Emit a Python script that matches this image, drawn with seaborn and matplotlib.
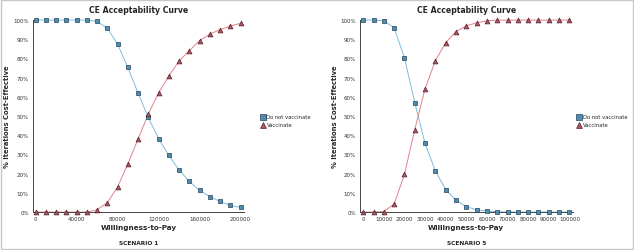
import pandas as pd
import seaborn as sns
import matplotlib
matplotlib.use('Agg')
import matplotlib.pyplot as plt
from matplotlib.patches import Rectangle
from matplotlib.ticker import FuncFormatter

# Scenario 1 (WTP 0..200000 step 10000)
wtp_s1 = list(range(0, 200001, 10000))
dnv_s1 = [100, 100, 100, 100, 100, 100, 99.3, 95.8, 87.6, 75.4, 62, 49.3, 38.3, 29.6, 22, 16, 11.3, 8, 5.6, 3.5, 2.4]
vac_s1 = [0, 0, 0, 0, 0, 0, 1.2, 4.9, 13, 25, 38, 51, 62, 70.9, 78.6, 84.1, 89.2, 92.7, 95, 96.9, 98.3]

# Scenario 5 (WTP 0..100000 step 5000)
wtp_s5 = list(range(0, 100001, 5000))
dnv_s5 = [100, 100, 99.6, 96, 80.4, 57, 35.8, 21.5, 11.7, 6.1, 2.8, 1.2, 0.6, 0.2, 0, 0, 0, 0, 0, 0, 0]
vac_s5 = [0, 0, 0.3, 4.2, 19.6, 43, 64.3, 78.8, 88.3, 94, 97, 98.6, 99.6, 100, 100, 100, 100, 100, 100, 100, 100]

series_names = ['Do not vaccinate', 'Vaccinate']
scenario_labels = ['SCENARIO 1', 'SCENARIO 5']

line_cols = {'Do not vaccinate': '#7fbcdc', 'Vaccinate': '#e2828a'}
fill_cols = {'Do not vaccinate': '#4f8db0', 'Vaccinate': '#b25563'}
edge_cols = {'Do not vaccinate': '#27465a', 'Vaccinate': '#4e1f2a'}
markers = {'Do not vaccinate': 's', 'Vaccinate': '^'}

sns.set_style('white')
plt.rcParams['font.family'] = ['DejaVu Sans']

fig = plt.figure(figsize=(6.34, 2.51), dpi=100)
fig.patches.append(Rectangle((0.001, 0.004), 0.997, 0.992, transform=fig.transFigure,
                             fill=False, edgecolor='#c8c8c8', lw=1.0))

panels = [
    (wtp_s1, dnv_s1, vac_s1, [0.052, 0.151, 0.333, 0.765], (-2500, 203500),
     [0, 40000, 80000, 120000, 160000, 200000], 0.407),
    (wtp_s5, dnv_s5, vac_s5, [0.568, 0.151, 0.335, 0.765], (-1500, 101500),
     list(range(0, 100001, 10000)), 0.906),
]

for (wtp, dnv, vac, rect, xlim, xticks, legx), scen in zip(panels, scenario_labels):
    df = pd.DataFrame({
        'wtp': wtp * 2,
        'pct': dnv + vac,
        'strategy': [series_names[0]] * len(wtp) + [series_names[1]] * len(wtp),
    })
    ax = fig.add_axes(rect)
    sns.lineplot(data=df, x='wtp', y='pct', hue='strategy', palette=line_cols,
                 lw=0.7, legend=False, ax=ax, clip_on=False)
    for name in series_names:
        sub = df[df['strategy'] == name]
        sns.scatterplot(data=sub, x='wtp', y='pct', marker=markers[name],
                        color=fill_cols[name], edgecolor=edge_cols[name],
                        linewidth=0.5, s=12, ax=ax, clip_on=False, zorder=3,
                        label=name)
    ax.set_xlim(*xlim)
    ax.set_ylim(0, 100)
    ax.set_xticks(xticks)
    ax.set_yticks(range(0, 101, 10))
    ax.yaxis.set_major_formatter(FuncFormatter(lambda v, p: f'{int(v)}%'))
    ax.tick_params(axis='both', labelsize=4.0, labelcolor='#333333', length=1.5,
                   width=0.5, pad=1.5, direction='out', colors='#555555')
    for s in ['top', 'right']:
        ax.spines[s].set_visible(False)
    for s in ['left', 'bottom']:
        ax.spines[s].set_color('#444444')
        ax.spines[s].set_linewidth(0.7)
    ax.set_title('CE Acceptability Curve', fontsize=5.6, fontweight='bold', pad=6)
    ax.set_ylabel('% Iterations Cost-Effective', fontsize=4.9, fontweight='bold', labelpad=2)
    ax.set_xlabel('Willingness-to-Pay', fontsize=5.2, fontweight='bold', labelpad=2)
    ax.text(0.5, -0.145, scen, transform=ax.transAxes, ha='center', va='top',
            fontsize=4.2, fontweight='bold')
    leg = ax.legend(loc='center left', bbox_to_anchor=(legx, 0.515),
                    bbox_transform=fig.transFigure, frameon=False,
                    fontsize=3.8, handletextpad=0.2, borderaxespad=0, labelspacing=0.5,
                    markerscale=1.2, handlelength=1.0)

fig.savefig('out.png', dpi=100)
